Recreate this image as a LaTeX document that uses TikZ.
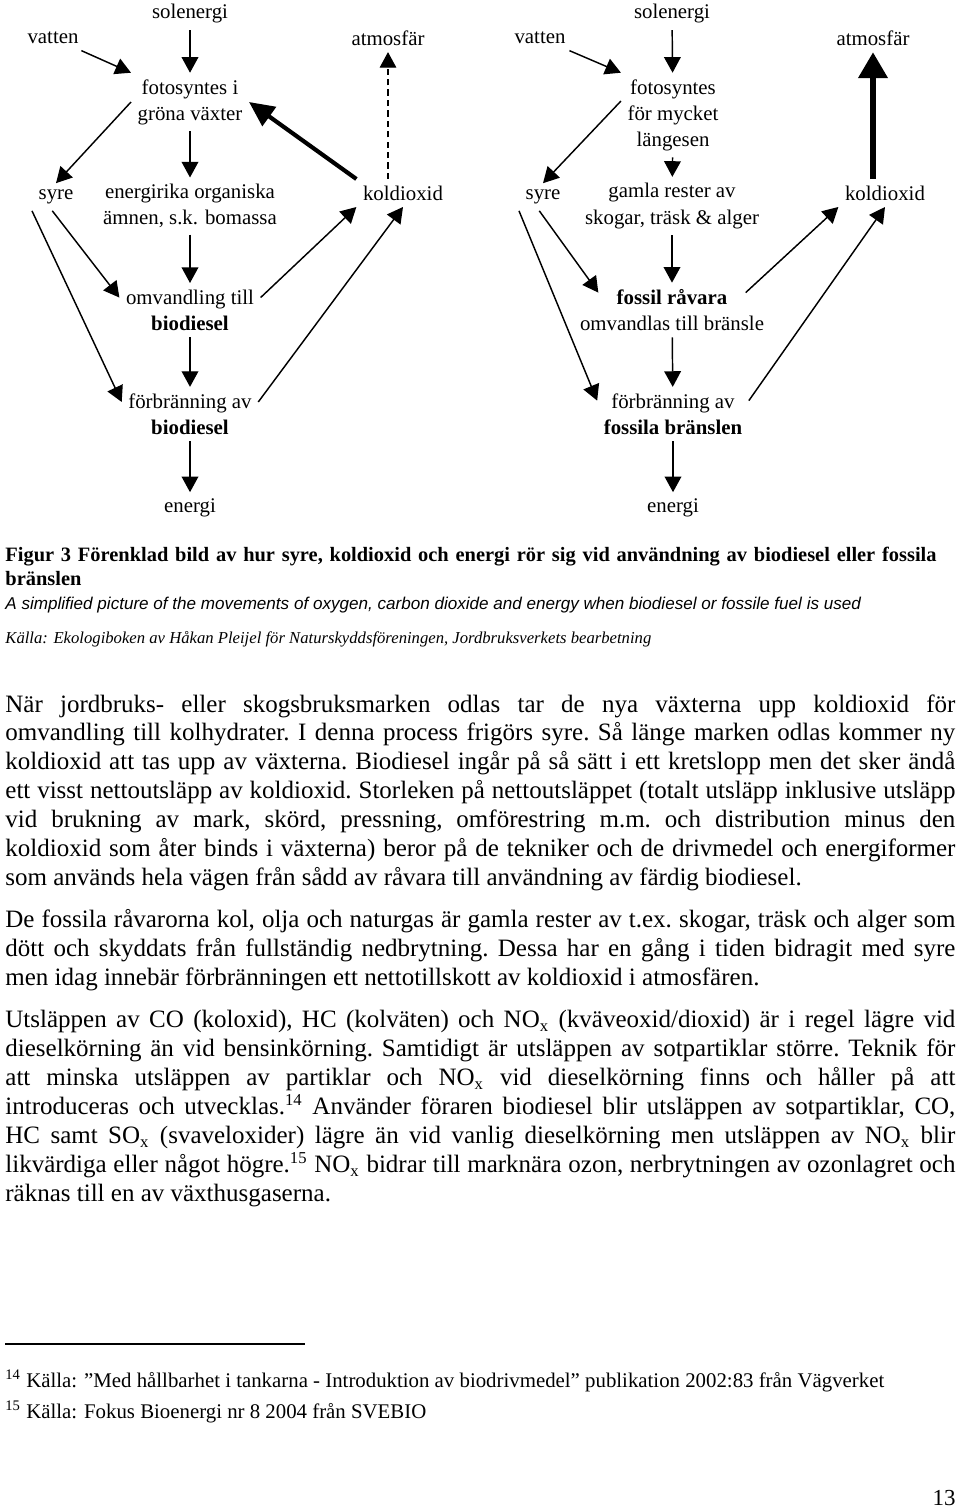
\documentclass[tikz,border=0pt]{standalone}
\usepackage{fontspec}
\setmainfont{Liberation Serif}
\newfontfamily\capsans{Liberation Sans}
\usepackage{tikz}
\usetikzlibrary{
arrows.meta,
positioning
}
\newcommand{\flowfont}{\fontsize{10}{12.5}\selectfont}
\newcommand{\bodyfont}{\fontsize{12}{13.9}\selectfont\frenchspacing
  \tolerance=10000\pretolerance=-1\hyphenpenalty=10000\exhyphenpenalty=10000\hbadness=10000}
\newcommand{\capfont}{\bfseries\fontsize{9.8}{11.5}\selectfont\hyphenpenalty=10000}
\tikzset{
flowlabel/.style={align=center, font=\flowfont, inner sep=3pt},
flowarrow/.style={-{Triangle[length=7.5pt,width=8pt]}, line width=0.7pt},
flowheavy/.style={-{Triangle[length=12pt,width=11pt]}, line width=2pt},
flowmassive/.style={-{Triangle[length=12.5pt,width=13.5pt]}, line width=3.3pt},
flowdashed/.style={-{Triangle[length=7.5pt,width=8pt]}, line width=0.5pt, dash pattern=on 3pt off 2pt},
bodytext/.style={anchor=north west, inner sep=0pt, text width=456pt, align=justify, font=\bodyfont},
notetext/.style={anchor=base west, inner sep=0pt, font=\fontsize{10}{11.5}\selectfont}
}

\begin{document}
\begin{tikzpicture}[x=0.48pt, y=-0.48pt]
\path[use as bounding box, fill=white] (0,0) rectangle (960,1509);

% biodiesel
\node[flowlabel] (solL) at (190,14) {solenergi};
\node[flowlabel] (vatL) at (53,38) {vatten};
\node[flowlabel] (atmL) at (388,38) {atmosfär};
\node[flowlabel] (fotoL) at (190,102) {fotosyntes i\\gröna växter};
\node[flowlabel] (syreL) at (56,197) {syre};
\node[flowlabel] (biomL) at (190,206) {energirika organiska\\ämnen, s.k. bomassa};
\node[flowlabel] (koldL) at (403,193) {koldioxid};
\node[flowlabel] (omvL) at (190,310) {omvandling till\\\textbf{biodiesel}};
\node[flowlabel] (forbL) at (190,414) {förbränning av\\\textbf{biodiesel}};
\node[flowlabel] (enL) at (190,508) {energi};

\foreach \a/\b in {solL/fotoL,fotoL/biomL,biomL/omvL,omvL/forbL,forbL/enL}
\draw[flowarrow] (\a) -- (\b);
\draw[flowarrow] (vatL) -- (fotoL.north west);
\draw[flowarrow] (fotoL.west) -- (syreL.north);
\draw[flowarrow] (syreL.255) -- (omvL.170);
\draw[flowarrow] (syreL.south west) -- (forbL.170);
\draw[flowarrow] (omvL.10) -- (koldL.south west);
\draw[flowarrow] (forbL.10) -- (koldL.south);
\draw[flowheavy] (koldL.north west) -- (fotoL.east);
\draw[flowdashed] (atmL |- koldL.north) -- (atmL);

% fossila bränslen
\node[flowlabel] (solR) at (672,14) {solenergi};
\node[flowlabel] (vatR) at (540,38) {vatten};
\node[flowlabel] (atmR) at (873,38) {atmosfär};
\node[flowlabel] (fotoR) at (673,115) {fotosyntes\\för mycket\\längesen};
\node[flowlabel] (syreR) at (543,197) {syre};
\node[flowlabel] (restR) at (672,206) {gamla rester av\\skogar, träsk \& alger};
\node[flowlabel] (koldR) at (885,193) {koldioxid};
\node[flowlabel] (fossR) at (672,310) {\textbf{fossil råvara}\\omvandlas till bränsle};
\node[flowlabel] (forbR) at (673,414) {förbränning av\\\textbf{fossila bränslen}};
\node[flowlabel] (enR) at (673,508) {energi};

\foreach \a/\b in {solR/fotoR,fotoR/restR,restR/fossR,fossR/forbR,forbR/enR}
\draw[flowarrow] (\a) -- (\b);
\draw[flowarrow] (vatR) -- (fotoR.north west);
\draw[flowarrow] (fotoR.165) -- (syreR.north);
\draw[flowarrow] (syreR.255) -- ([xshift=12pt]fossR.170);
\draw[flowarrow] (syreR.south west) -- (forbR.170);
\draw[flowarrow] ([xshift=-12pt]fossR.10) -- (koldR.south west);
\draw[flowarrow] (forbR.10) -- (koldR.south);
\draw[flowmassive] (atmR |- koldR.north) -- (atmR);

% figurtext
\node[anchor=north west, inner sep=0pt, text width=520pt, align=left, font=\capfont] (figcap) at (5,547)
  {Figur 3 Förenklad bild av hur syre, koldioxid och energi rör sig vid användning av biodiesel eller fossila\\bränslen};
\node[anchor=base west, inner sep=0pt, font=\capsans\itshape\fontsize{8.2}{10}\selectfont] (figeng) at (5,609)
  {A simplified picture of the movements of oxygen, carbon dioxide and energy when biodiesel or fossile fuel is used};
\node[anchor=base west, inner sep=0pt, font=\itshape\fontsize{8}{10}\selectfont] (figsrc) at (5,643)
  {Källa: Ekologiboken av Håkan Pleijel för Naturskyddsföreningen, Jordbruksverkets bearbetning};

% brödtext
\node[bodytext] (parA) at (5,694) {När jordbruks- eller skogsbruksmarken odlas tar de nya växterna upp koldioxid för\linebreak
omvandling till kolhydrater. I denna process frigörs syre. Så länge marken odlas kommer ny\linebreak
koldioxid att tas upp av växterna. Biodiesel ingår på så sätt i ett kretslopp men det sker ändå\linebreak
ett visst nettoutsläpp av koldioxid. Storleken på nettoutsläppet (totalt utsläpp inklusive utsläpp\linebreak
vid brukning av mark, skörd, pressning, omförestring m.m. och distribution minus den\linebreak
koldioxid som åter binds i växterna) beror på de tekniker och de drivmedel och energiformer\linebreak
som används hela vägen från sådd av råvara till användning av färdig biodiesel.};
\node[bodytext] (parB) at (5,909) {De fossila råvarorna kol, olja och naturgas är gamla rester av t.ex. skogar, träsk och alger som\linebreak
dött och skyddats från fullständig nedbrytning. Dessa har en gång i tiden bidragit med syre\linebreak
men idag innebär förbränningen ett nettotillskott av koldioxid i atmosfären.};
\node[bodytext] (parC) at (5,1010) {Utsläppen av CO (koloxid), HC (kolväten) och NO\textsubscript{x} (kväveoxid/dioxid) är i regel lägre vid\linebreak
dieselkörning än vid bensinkörning. Samtidigt är utsläppen av sotpartiklar större. Teknik för\linebreak
att minska utsläppen av partiklar och NO\textsubscript{x} vid dieselkörning finns och håller på att\linebreak
introduceras och utvecklas.\textsuperscript{14} Använder föraren biodiesel blir utsläppen av sotpartiklar, CO,\linebreak
HC samt SO\textsubscript{x} (svaveloxider) lägre än vid vanlig dieselkörning men utsläppen av NO\textsubscript{x} blir\linebreak
likvärdiga eller något högre.\textsuperscript{15} NO\textsubscript{x} bidrar till marknära ozon, nerbrytningen av ozonlagret och\linebreak
räknas till en av växthusgaserna.};

% fotnoter
\draw[line width=0.5pt] (5,1344) -- (305,1344);
\node[notetext] (fnA) at (5,1387) {\textsuperscript{14} Källa: ”Med hållbarhet i tankarna - Introduktion av biodrivmedel” publikation 2002:83 från Vägverket};
\node[notetext] (fnB) at (5,1418) {\textsuperscript{15} Källa: Fokus Bioenergi nr 8 2004 från SVEBIO};
\node[anchor=base east, inner sep=0pt, font=\fontsize{11}{13}\selectfont] (pagenum) at (956,1505) {13};
\end{tikzpicture}
\end{document}
